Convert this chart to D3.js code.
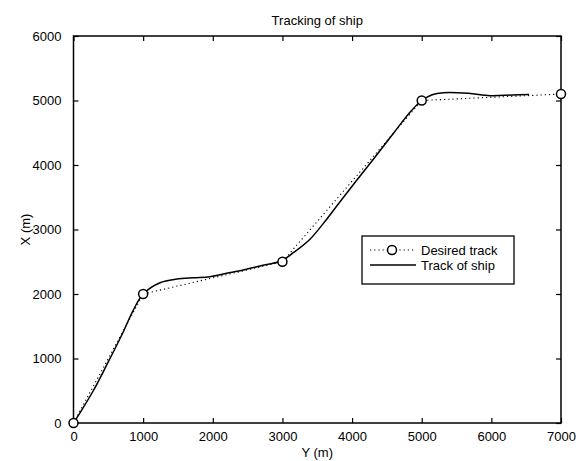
<!DOCTYPE html>
<html>
<head>
<meta charset="utf-8">
<script src="https://cdn.jsdelivr.net/npm/d3@7"></script>
<style>
  html, body { margin: 0; padding: 0; background: #fff; }
  svg { display: block; }
  text { font-family: "Liberation Sans", Arial, sans-serif; fill: #000; }
</style>
</head>
<body>
<svg id="chart" width="576" height="461"></svg>
<script>
// Waypoints of the desired track: [Y (m), X (m)]
const desiredY = [0, 1000, 3000, 5000, 7000];
const desiredX = [0, 2000, 2500, 5000, 5100];

// Simulated ship track: [Y (m), X (m)]
const shipY = [0, 100, 284, 477, 700, 859, 1000, 1242, 1482, 1721, 1960, 2200, 2439, 2678, 2989,
               3156, 3396, 3636, 3827, 4050, 4300, 4600, 4850, 5000, 5150, 5310, 5669, 5981, 6300, 6540];
const shipX = [0, 170, 500, 900, 1380, 1750, 2000, 2175, 2232, 2253, 2268, 2320, 2372, 2434, 2516,
               2640, 2850, 3160, 3430, 3740, 4080, 4500, 4840, 5000, 5090, 5121, 5112, 5075, 5085, 5092];

const xTicks = [0, 1000, 2000, 3000, 4000, 5000, 6000, 7000];
const yTicks = [0, 1000, 2000, 3000, 4000, 5000, 6000];

const titleText = "Tracking of ship";
const xLabel = "Y (m)";
const yLabel = "X (m)";
const legendNames = ["Desired track", "Track of ship"];

const svg = d3.select("#chart");
const m = { left: 73.5, right: 561, top: 36, bottom: 423 };

const x = d3.scaleLinear().domain([0, 7000]).range([m.left, m.right]);
const y = d3.scaleLinear().domain([0, 6000]).range([m.bottom, m.top]);

const desired = desiredY.map((v, i) => [v, desiredX[i]]);
const ship = shipY.map((v, i) => [v, shipX[i]]);

// Axes: ticks point inward, mirrored on the top and right edges
const tickLen = 5;
const fs = 13;
const fmt = d3.format("d");
svg.append("g").attr("transform", `translate(0,${m.bottom})`)
  .call(d3.axisBottom(x).tickValues(xTicks).tickFormat(fmt).tickSizeInner(-tickLen).tickSizeOuter(0).tickPadding(9))
  .call(g => g.select(".domain").remove())
  .call(g => g.selectAll("text").attr("font-size", fs).attr("font-family", "Liberation Sans, Arial"));
svg.append("g").attr("transform", `translate(0,${m.top})`)
  .call(d3.axisTop(x).tickValues(xTicks).tickSizeInner(-tickLen).tickSizeOuter(0).tickFormat(""))
  .call(g => g.select(".domain").remove());
svg.append("g").attr("transform", `translate(${m.left},0)`)
  .call(d3.axisLeft(y).tickValues(yTicks).tickFormat(fmt).tickSizeInner(-tickLen).tickSizeOuter(0).tickPadding(12))
  .call(g => g.select(".domain").remove())
  .call(g => g.selectAll("text").attr("font-size", fs).attr("font-family", "Liberation Sans, Arial"));
svg.append("g").attr("transform", `translate(${m.right},0)`)
  .call(d3.axisRight(y).tickValues(yTicks).tickSizeInner(-tickLen).tickSizeOuter(0).tickFormat(""))
  .call(g => g.select(".domain").remove());
svg.selectAll(".tick line").attr("stroke", "#000").attr("stroke-width", 1.2);

// Plot frame
svg.append("rect")
  .attr("x", m.left).attr("y", m.top)
  .attr("width", m.right - m.left).attr("height", m.bottom - m.top)
  .attr("fill", "none").attr("stroke", "#000").attr("stroke-width", 1.5);

// Desired track: dotted straight segments with circle markers
svg.append("path")
  .datum(desired)
  .attr("d", d3.line().x(d => x(d[0])).y(d => y(d[1])))
  .attr("fill", "none").attr("stroke", "#000").attr("stroke-width", 1.1)
  .attr("stroke-dasharray", "1.2,3");

// Ship track: solid smooth line
svg.append("path")
  .datum(ship)
  .attr("d", d3.line().x(d => x(d[0])).y(d => y(d[1])).curve(d3.curveCatmullRom.alpha(0.5)))
  .attr("fill", "none").attr("stroke", "#000").attr("stroke-width", 1.5);

svg.append("g").selectAll("circle")
  .data(desired).join("circle")
  .attr("cx", d => x(d[0])).attr("cy", d => y(d[1])).attr("r", 4.5)
  .attr("fill", "#fff").attr("stroke", "#000").attr("stroke-width", 1.5);

// Title and axis labels
svg.append("text").attr("x", (m.left + m.right) / 2).attr("y", 25)
  .attr("text-anchor", "middle").attr("font-size", fs).text(titleText);
svg.append("text").attr("x", (m.left + m.right) / 2).attr("y", 457)
  .attr("text-anchor", "middle").attr("font-size", fs).text(xLabel);
svg.append("text").attr("transform", `translate(30,${(m.top + m.bottom) / 2}) rotate(-90)`)
  .attr("text-anchor", "middle").attr("font-size", fs).text(yLabel);

// Legend
const lg = svg.append("g");
lg.append("rect").attr("x", 362).attr("y", 236).attr("width", 152).attr("height", 48)
  .attr("fill", "#fff").attr("stroke", "#000").attr("stroke-width", 1.3);
const rows = [250, 265];
lg.append("line").attr("x1", 370).attr("x2", 416).attr("y1", rows[0]).attr("y2", rows[0])
  .attr("stroke", "#000").attr("stroke-width", 1.1).attr("stroke-dasharray", "1.2,3");
lg.append("circle").attr("cx", 392).attr("cy", rows[0]).attr("r", 4.5)
  .attr("fill", "#fff").attr("stroke", "#000").attr("stroke-width", 1.5);
lg.append("line").attr("x1", 370).attr("x2", 416).attr("y1", rows[1]).attr("y2", rows[1])
  .attr("stroke", "#000").attr("stroke-width", 1.5);
lg.selectAll("text.lab").data(legendNames).join("text").attr("class", "lab")
  .attr("x", 421).attr("y", (d, i) => rows[i] + 4.5).attr("font-size", fs).text(d => d);
</script>
</body>
</html>
